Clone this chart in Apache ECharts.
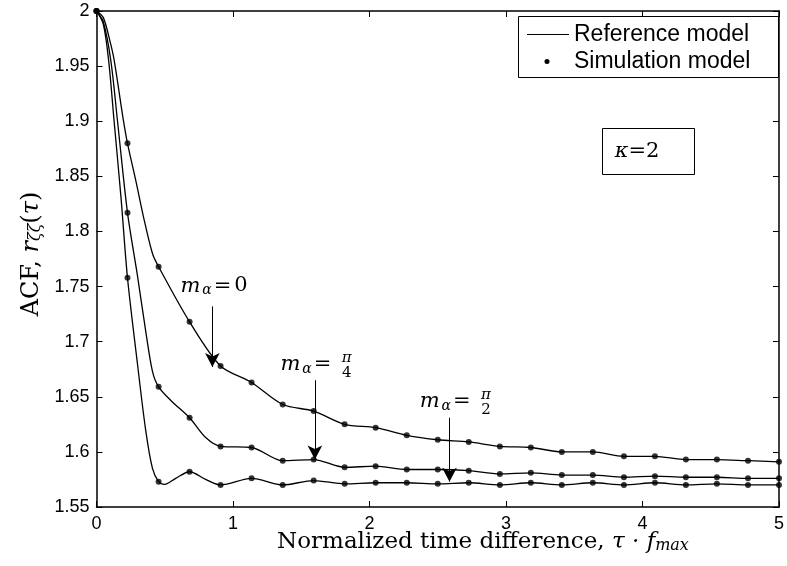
<!DOCTYPE html>
<html>
<head>
<meta charset="utf-8">
<title>ACF</title>
<script src="https://cdn.jsdelivr.net/npm/echarts@6/dist/echarts.min.js"></script>
<style>
    body { margin: 0; background: #fff; }
    #main { width: 787px; height: 566px; }
</style>
</head>
<body>
<div id="main"></div>
<script>
    // normalized time difference of the simulation samples
    let tau = [0, 0.227, 0.455, 0.682, 0.909, 1.136, 1.364, 1.591, 1.818, 2.045, 2.273, 2.5,
               2.727, 2.955, 3.182, 3.409, 3.636, 3.864, 4.091, 4.318, 4.545, 4.773, 5];

    // simulation model, one array per m_alpha
    let simM0 = [2, 1.880, 1.768, 1.718, 1.678, 1.663, 1.643, 1.637, 1.625, 1.622, 1.615, 1.611,
                 1.609, 1.605, 1.604, 1.600, 1.600, 1.596, 1.596, 1.593, 1.593, 1.592, 1.591];
    let simM1 = [2, 1.817, 1.659, 1.631, 1.605, 1.604, 1.592, 1.593, 1.586, 1.587, 1.584, 1.584,
                 1.583, 1.580, 1.581, 1.579, 1.579, 1.577, 1.578, 1.577, 1.577, 1.576, 1.576];
    let simM2 = [2, 1.758, 1.573, 1.582, 1.570, 1.576, 1.570, 1.574, 1.571, 1.572, 1.572, 1.571,
                 1.572, 1.570, 1.572, 1.570, 1.572, 1.570, 1.572, 1.570, 1.571, 1.570, 1.570];

    // reference model, extra readings of the curves before tau = 0.9
    let refHeadM0 = [[0, 2], [0.05, 1.994], [0.1, 1.972], [0.13, 1.955], [0.198, 1.900], [0.227, 1.880],
                     [0.29, 1.845], [0.35, 1.810], [0.41, 1.780], [0.455, 1.768], [0.682, 1.718]];
    let refHeadM1 = [[0, 2], [0.05, 1.990], [0.105, 1.955], [0.154, 1.900], [0.227, 1.817], [0.3, 1.760],
                     [0.36, 1.710], [0.41, 1.673], [0.455, 1.659], [0.55, 1.646], [0.682, 1.631], [0.8, 1.613]];
    let refHeadM2 = [[0, 2], [0.05, 1.988], [0.089, 1.955], [0.129, 1.900], [0.18, 1.830], [0.227, 1.758],
                     [0.3, 1.680], [0.36, 1.620], [0.41, 1.585], [0.455, 1.573], [0.5, 1.5705],
                     [0.58, 1.576], [0.682, 1.582], [0.8, 1.575]];

    // arrows: [x, yStart, yTip]
    let arrows = [[0.849, 1.732, 1.677], [1.600, 1.665, 1.593], [2.586, 1.631, 1.573]];

    function pairs(ys) {
        return tau.map(function (t, i) { return [t, ys[i]]; });
    }
    function refLine(head, ys) {
        return head.concat(pairs(ys).slice(4));
    }

    let serif = '"DejaVu Serif", "Liberation Serif", serif';
    let sans = '"Liberation Sans", Arial, sans-serif';

    // m_alpha = ... label, glyph by glyph
    function mLabel(x0, yc, top, bottom) {
        let els = [
            { type: 'text', x: x0 + 10.5, y: yc, style: { text: 'm', font: 'italic 21px ' + serif, fill: '#000', align: 'center', verticalAlign: 'middle' } },
            { type: 'text', x: x0 + 27, y: yc + 4, style: { text: 'α', font: 'italic 14px ' + serif, fill: '#000', align: 'center', verticalAlign: 'middle' } },
            { type: 'text', x: x0 + 42.5, y: yc, style: { text: '=', font: '21px ' + serif, fill: '#000', align: 'center', verticalAlign: 'middle' } }
        ];
        if (bottom == null) {
            els.push({ type: 'text', x: x0 + 61, y: yc - 1, style: { text: top, font: '21px ' + serif, fill: '#000', align: 'center', verticalAlign: 'middle' } });
        } else {
            els.push({ type: 'text', x: x0 + 66.7, y: yc - 7, style: { text: top, font: 'italic 15px ' + serif, fill: '#000', align: 'center', verticalAlign: 'middle' } });
            els.push({ type: 'text', x: x0 + 66.7, y: yc + 8, style: { text: bottom, font: '15px ' + serif, fill: '#000', align: 'center', verticalAlign: 'middle' } });
        }
        return els;
    }

    let myChart = echarts.init(document.getElementById('main'));

    let axisCommon = {
        type: 'value',
        axisLine: { show: true, onZero: false, lineStyle: { color: '#000', width: 1.5 } },
        axisTick: { show: true, inside: true, length: 6, lineStyle: { color: '#000', width: 1 } },
        splitLine: { show: false }
    };

    let option = {
        animation: false,
        backgroundColor: '#fff',
        grid: { left: 96.5, right: 2.5, top: 11, bottom: 59 },
        xAxis: [
            Object.assign({}, axisCommon, {
                position: 'bottom', min: 0, max: 5, interval: 1,
                axisLabel: { color: '#000', fontSize: 18, fontFamily: sans, margin: 8 }
            }),
            Object.assign({}, axisCommon, {
                position: 'top', min: 0, max: 5, interval: 1,
                axisLabel: { show: false }
            })
        ],
        yAxis: [
            Object.assign({}, axisCommon, {
                position: 'left', min: 1.55, max: 2, interval: 0.05,
                axisLabel: {
                    color: '#000', fontSize: 18, fontFamily: sans, margin: 7,
                    formatter: function (v) { return String(+v.toFixed(2)); }
                }
            }),
            Object.assign({}, axisCommon, {
                position: 'right', min: 1.55, max: 2, interval: 0.05,
                axisLabel: { show: false }
            })
        ],
        series: [
            {
                name: 'Reference model', type: 'line', data: refLine(refHeadM0, simM0),
                smooth: 0.3, symbol: 'none', lineStyle: { color: '#000', width: 1.3 }
            },
            {
                name: 'Reference model', type: 'line', data: refLine(refHeadM1, simM1),
                smooth: 0.3, symbol: 'none', lineStyle: { color: '#000', width: 1.3 }
            },
            {
                name: 'Reference model', type: 'line', data: refLine(refHeadM2, simM2),
                smooth: 0.3, symbol: 'none', lineStyle: { color: '#000', width: 1.3 },
                markLine: {
                    silent: true,
                    symbol: ['none', 'arrow'],
                    symbolSize: [11, 14],
                    label: { show: false },
                    lineStyle: { color: '#000', width: 1, type: 'solid' },
                    data: arrows.map(function (a) {
                        return [{ coord: [a[0], a[1]] }, { coord: [a[0], a[2]] }];
                    })
                }
            },
            {
                name: 'Simulation model', type: 'scatter',
                data: pairs(simM0).concat(pairs(simM1), pairs(simM2)),
                symbol: 'circle', symbolSize: 6, itemStyle: { color: '#000' }, z: 5
            }
        ],
        graphic: [
            // legend
            { type: 'rect', shape: { x: 518.5, y: 16.5, width: 260, height: 61 }, style: { fill: '#fff', stroke: '#000', lineWidth: 1 }, z: 100 },
            { type: 'line', shape: { x1: 527, y1: 34.5, x2: 569, y2: 34.5 }, style: { stroke: '#000', lineWidth: 1 }, z: 101 },
            { type: 'text', x: 574, y: 35, style: { text: 'Reference model', font: '23px ' + sans, fill: '#000', verticalAlign: 'middle' }, z: 101 },
            { type: 'circle', shape: { cx: 547, cy: 61.5, r: 2.5 }, style: { fill: '#000' }, z: 101 },
            { type: 'text', x: 574, y: 62, style: { text: 'Simulation model', font: '23px ' + sans, fill: '#000', verticalAlign: 'middle' }, z: 101 },
            // kappa box
            { type: 'rect', shape: { x: 602.5, y: 128.5, width: 92, height: 46 }, style: { fill: '#fff', stroke: '#000', lineWidth: 1 }, z: 100 },
            { type: 'text', x: 637, y: 152, style: { text: '{i|κ}{n|=2}', rich: { i: { font: 'italic 21px ' + serif, fill: '#000' }, n: { font: '21px ' + serif, fill: '#000' } }, align: 'center', verticalAlign: 'middle' }, z: 101 },
            // axis titles
            {
                type: 'text', x: 483, y: 542,
                style: {
                    text: '{n|Normalized time difference, }{i|τ · f}{s|max}',
                    rich: {
                        n: { font: '23px ' + serif, fill: '#000', verticalAlign: 'bottom' },
                        i: { font: 'italic 23px ' + serif, fill: '#000', verticalAlign: 'bottom' },
                        s: { font: 'italic 16px ' + serif, fill: '#000', verticalAlign: 'bottom' }
                    },
                    align: 'center', verticalAlign: 'middle'
                }
            },
            {
                type: 'text', x: 32, y: 254, rotation: Math.PI / 2,
                style: {
                    text: '{n|ACF, }{i|r}{s|ζζ}{n|(}{i|τ}{n|)}',
                    rich: {
                        n: { font: '24px ' + serif, fill: '#000', verticalAlign: 'bottom' },
                        i: { font: 'italic 24px ' + serif, fill: '#000', verticalAlign: 'bottom' },
                        s: { font: 'italic 16px ' + serif, fill: '#000', verticalAlign: 'bottom' }
                    },
                    align: 'center', verticalAlign: 'middle'
                }
            }
        ].concat(
            mLabel(180, 286.5, '0'),
            mLabel(280, 365, 'π', '4'),
            mLabel(419.3, 402, 'π', '2')
        )
    };

    myChart.setOption(option);
</script>
</body>
</html>
